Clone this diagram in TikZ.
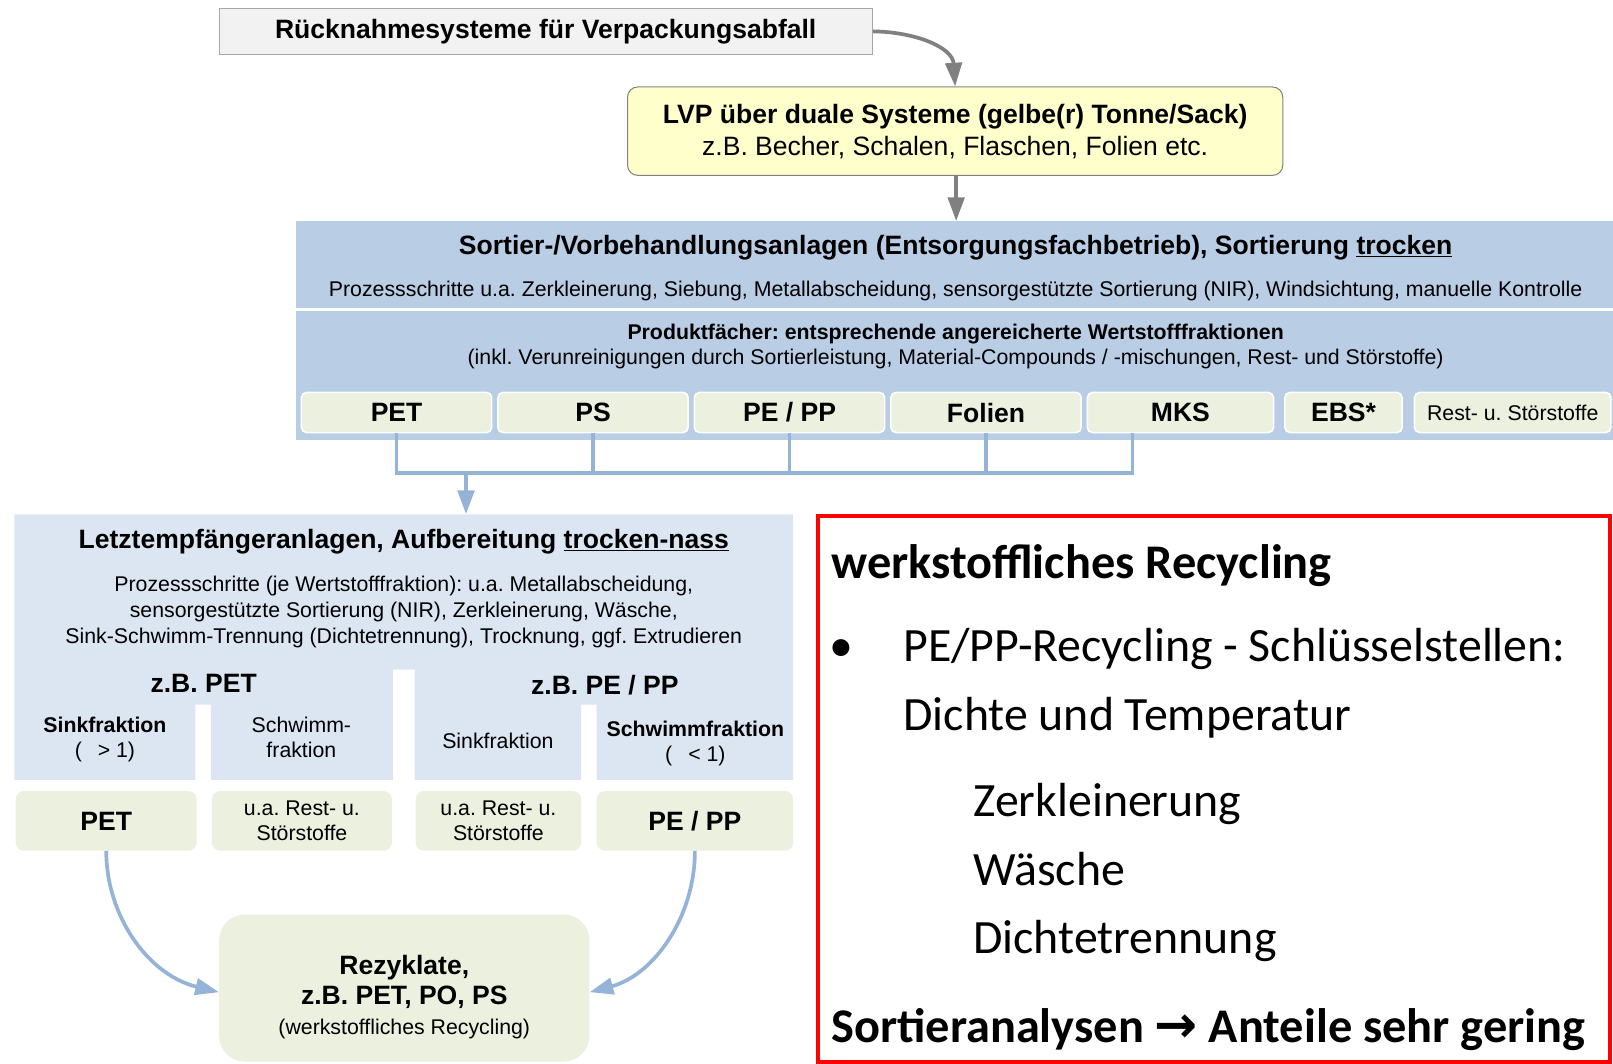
\documentclass[tikz,border=0pt]{standalone}
\usepackage{fontspec}
\setmainfont{Liberation Sans}
\newfontfamily\calfont{Carlito}
\newfontfamily\symfont{DejaVu Sans}
\usetikzlibrary{arrows.meta}
\frenchspacing

\definecolor{sortblue}{HTML}{B9CDE5}
\definecolor{letzblue}{HTML}{DCE6F2}
\definecolor{prodgreen}{HTML}{EBF1DE}
\definecolor{lvpyellow}{HTML}{FFFFCC}
\definecolor{connblue}{HTML}{95B3D7}
\definecolor{arrowgray}{HTML}{808080}
\definecolor{boxgray}{HTML}{F2F2F2}
\definecolor{edgegray}{HTML}{A6A6A6}

\newcommand\fontL{\fontsize{25.8pt}{31pt}\selectfont}
\newcommand\fontS{\fontsize{20.7pt}{24.5pt}\selectfont}
\newcommand\fontR{\calfont\fontsize{46.5pt}{55pt}\selectfont}
\newcommand\fontRB{\calfont\fontsize{47pt}{55pt}\selectfont\bfseries}

\tikzset{
  tbox/.style={inner sep=0pt, align=center},
  topbox/.style={tbox, draw=edgegray, fill=boxgray, line width=1pt},
  lvpbox/.style={tbox, draw=arrowgray, fill=lvpyellow, rounded corners=10pt, line width=1pt},
  prodbox/.style={tbox, fill=prodgreen, draw=white, line width=1.5pt, rounded corners=5pt, minimum height=39pt},
  lowbox/.style={tbox, fill=prodgreen, rounded corners=8pt, minimum height=58pt},
  conn/.style={draw=connblue, line width=3.6pt},
  grayconn/.style={draw=arrowgray, line width=3.6pt},
  txt/.style={inner sep=0pt, align=center},
  redtxt/.style={inner sep=0pt, anchor=base west, font=\fontR},
  arrtip/.style={-{Triangle[length=23pt,width=16pt]}}
}

\begin{document}
\begin{tikzpicture}[x=1pt,y=-1pt]
\useasboundingbox (0,0) rectangle (1568,1034);

% --- collection systems ---
\node[topbox, minimum width=635pt, minimum height=45pt, font=\fontL\bfseries] (ruck) at (530.5,30.5)
  {Rücknahmesysteme für Verpackungsabfall};
\node[lvpbox, minimum width=637pt, minimum height=86pt, font=\fontL] (lvp) at (928.5,127.5)
  {\textbf{LVP über duale Systeme (gelbe(r) Tonne/Sack)}\\z.B. Becher, Schalen, Flaschen, Folien etc.};

% --- sorting plants ---
\node[fill=sortblue, inner sep=0pt, minimum width=1280pt, minimum height=213pt] (sort) at (928,321.5) {};
\draw[white, line width=2.5pt] (sort.west |- 0,301) -- (sort.east |- 0,301);
\node[txt, anchor=base, font=\fontL\bfseries] (sorttitle) at (929,247)
  {Sortier-/Vorbehandlungsanlagen (Entsorgungsfachbetrieb), Sortierung \underline{trocken}};
\node[txt, anchor=base, font=\fontS] (sortsub) at (929,288.5)
  {Prozessschritte u.a. Zerkleinerung, Siebung, Metallabscheidung, sensorgestützte Sortierung (NIR), Windsichtung, manuelle Kontrolle};
\node[txt, anchor=base, font=\fontS\bfseries] (prodtitle) at (929,330.5)
  {Produktfächer: entsprechende angereicherte Wertstofffraktionen};
\node[txt, anchor=base, font=\fontS] (prodsub) at (929,354.5)
  {(inkl. Verunreinigungen durch Sortierleistung, Material-Compounds / -mischungen, Rest- und Störstoffe)};

\node[prodbox, minimum width=185pt, font=\fontL\bfseries] (pPET) at (385.5,401) {PET};
\node[prodbox, minimum width=185pt, font=\fontL\bfseries] (pPS) at (576.5,401) {PS};
\node[prodbox, minimum width=185pt, font=\fontL\bfseries] (pPEPP) at (767.5,401) {PE / PP};
\node[prodbox, minimum width=185pt, font=\fontL\bfseries] (pFol) at (958.5,401) {Folien};
\node[prodbox, minimum width=181pt, font=\fontL\bfseries] (pMKS) at (1147.5,401) {MKS};
\node[prodbox, minimum width=114pt, font=\fontL\bfseries] (pEBS) at (1306,401) {EBS*};
\node[prodbox, minimum width=191pt, font=\fontS] (pRest) at (1470.5,401) {Rest- u. Störstoffe};

% --- final recipient plants ---
\fill[letzblue] (14,500) -- (771,500) -- (771,758) -- (580,758) -- (580,685) -- (565,685)
  -- (565,758) -- (403,758) -- (403,651) -- (382,651) -- (382,758) -- (205,758)
  -- (205,685) -- (190,685) -- (190,758) -- (14,758) -- cycle;
\node[inner sep=0pt, minimum width=757pt, minimum height=151pt] (letz) at (392.5,575.5) {};
\node[txt, anchor=base, font=\fontL\bfseries] (letztitle) at (392.5,533)
  {Letztempfängeranlagen, Aufbereitung \underline{trocken-nass}};
\node[txt, font=\fontsize{20.7pt}{25pt}\selectfont] (letzsub) at (392.5,595)
  {Prozessschritte (je Wertstofffraktion): u.a. Metallabscheidung,\\
   sensorgestützte Sortierung (NIR), Zerkleinerung, Wäsche,\\
   Sink-Schwimm-Trennung (Dichtetrennung), Trocknung, ggf. Extrudieren};
\node[txt, anchor=base, font=\fontL\bfseries] (zbPET) at (198,673) {z.B. PET};
\node[txt, anchor=base, font=\fontL\bfseries] (zbPEPP) at (588,675) {z.B. PE / PP};
\node[txt, font=\fontS] (sinkA) at (102,719) {\textbf{Sinkfraktion}\\(\hspace{0.75em}> 1)};
\node[txt, font=\fontS] (schwA) at (293,717) {Schwimm-\\fraktion};
\node[txt, anchor=base, font=\fontS] (sinkB) at (484,727.5) {Sinkfraktion};
\node[txt, font=\fontS] (schwB) at (676,723) {\textbf{Schwimmfraktion}\\(\hspace{0.75em}< 1)};

\node[lowbox, minimum width=176pt, font=\fontL\bfseries] (lPET) at (103.25,798) {PET};
\node[lowbox, minimum width=175pt, font=\fontS] (lRestA) at (293.5,798) {u.a. Rest- u.\\Störstoffe};
\node[lowbox, minimum width=161pt, font=\fontS] (lRestB) at (484.5,798) {u.a. Rest- u.\\Störstoffe};
\node[lowbox, minimum width=191pt, font=\fontL\bfseries] (lPEPP) at (675.5,798) {PE / PP};

% --- recyclates ---
\node[fill=prodgreen, rounded corners=25pt, inner sep=0pt, minimum width=360pt, minimum height=143pt] (rez) at (393,960.5) {};
\node[txt, font=\fontsize{25.8pt}{29pt}\selectfont] (reztext) at (393,969)
  {\textbf{Rezyklate,}\\\textbf{z.B. PET, PO, PS}\\{\fontS(werkstoffliches Recycling)}};

% --- connectors ---
\draw[grayconn, arrtip] (ruck.east) .. controls (890,31) and (926,46) .. (lvp.north);
\draw[grayconn, arrtip] ([xshift=1pt]lvp.south) -- ([xshift=1pt]lvp.south |- sort.north);

\coordinate (jR) at (1101,460);
\coordinate (jA) at (453,460);
\draw[conn] (pPET.south) |- (jR) -- (jR |- pMKS.south);
\draw[conn] (pPS.south) -- (pPS.south |- jR);
\draw[conn] (pPEPP.south) -- (pPEPP.south |- jR);
\draw[conn] (pFol.south) -- (pFol.south |- jR);
\draw[conn, arrtip] (jA) -- (jA |- letz.north);

\draw[conn, arrtip] (lPET.south) .. controls (103.5,892) and (145,948) .. ([yshift=-4pt]rez.west);
\draw[conn, arrtip] (lPEPP.south) .. controls (675.5,892) and (635,948) .. ([yshift=-4pt]rez.east);

% --- note box ---
\node[draw=red, line width=4pt, inner sep=0pt, minimum width=770pt, minimum height=530pt] (redbox) at (1180,767) {};
\node[redtxt, font=\fontRB] (rA) at (808,562) {werkstoffliches Recycling};
\node[redtxt] (rBul) at (806,643) {•};
\node[redtxt] (rB) at (878,643) {PE/PP-Recycling - Schlüsselstellen:};
\node[redtxt] (rC) at (878,710) {Dichte und Temperatur};
\node[redtxt] (rD) at (946,794) {Zerkleinerung};
\node[redtxt] (rE) at (946,861) {Wäsche};
\node[redtxt] (rF) at (946,927) {Dichtetrennung};
\node[redtxt, font=\fontRB] (rG) at (808,1013) {Sortieranalysen {\symfont\fontsize{50pt}{55pt}\selectfont\bfseries →} Anteile sehr gering};
\end{tikzpicture}
\end{document}
